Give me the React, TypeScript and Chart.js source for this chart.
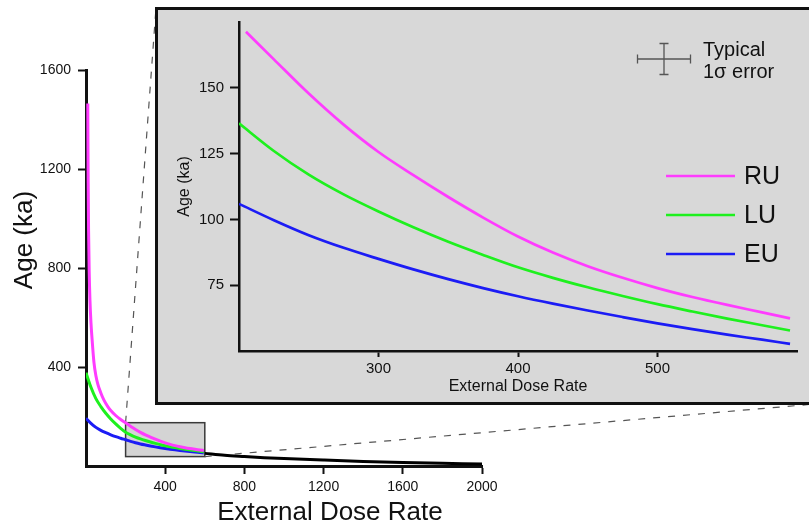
import React, { useEffect, useRef } from 'react';
import { Chart, registerables } from 'chart.js';

Chart.register(...registerables);

const FONT = '"Liberation Sans", Arial, Helvetica, sans-serif';

const seriesLabels = ['RU', 'LU', 'EU'];
const seriesColors = ['#ff3cff', '#1ef01e', '#1c1cf5'];

// Large panel, low-dose part (0-200)
const ruLowDose = [9, 10, 11, 13, 16, 20, 25, 30, 40, 50, 60, 75, 90, 110, 125, 150, 175];
const ruLowAge = [1465, 1290, 1142, 950, 790, 670, 580, 520, 420, 365, 330, 295, 267, 240, 224, 204, 188];
const luLowDose = [0, 25, 50, 75, 100, 125, 150, 175];
const luLowAge = [377, 318, 272, 240, 213, 190, 170, 152];
const euLowDose = [0, 25, 50, 75, 100, 125, 150, 175];
const euLowAge = [193, 172, 156, 144, 134.5, 126, 118.5, 112];

// Inset readings (200-600)
const ruInsetDose = [205, 225, 250, 275, 300, 325, 350, 375, 400, 425, 450, 475, 500, 525, 550, 575, 595];
const ruInsetAge = [171.3, 160.8, 147.8, 136, 125.6, 116.8, 108.5, 100.7, 93.5, 87.4, 82.2, 77.8, 73.9, 70.5, 67.5, 64.7, 62.4];
const insetDose = [200, 225, 250, 275, 300, 325, 350, 375, 400, 425, 450, 475, 500, 525, 550, 575, 595];
const luInsetAge = [136.5, 126, 117, 109.5, 103, 97, 91.5, 86.5, 81.8, 77.8, 74.2, 70.9, 67.8, 65, 62.3, 59.8, 57.8];
const euInsetAge = [105.9, 99.7, 94, 89.2, 85, 81, 77.3, 73.9, 70.8, 68, 65.4, 62.9, 60.5, 58.3, 56.2, 54.3, 52.7];

// High-dose tail (black line)
const tailDose = [600, 700, 800, 900, 1000, 1200, 1400, 1600, 1800, 2000];
const tailAge = [51, 43, 38, 33.5, 30, 24, 18.5, 14, 11, 8];

// Zoom window shown in the large panel
const zoomBoxDose = [200, 600];
const zoomBoxAge = [38, 175];

// Tick values
const mainXTicks = [400, 800, 1200, 1600, 2000];
const mainYTicks = [400, 800, 1200, 1600];
const insetXTicks = [300, 400, 500];
const insetYTicks = [75, 100, 125, 150];

const errorLabel = ['Typical', '1\u03c3 error'];
const axisTitleX = 'External Dose Rate';
const axisTitleY = 'Age (ka)';

// layout of inset box on the page
const INSET = { left: 155, top: 7, width: 654, height: 398, farRight: 815 };

const pts = (xs: number[], ys: number[]) => xs.map((x, i) => ({ x, y: ys[i] }));

const mainSeries = [
  pts([...ruLowDose, ...ruInsetDose], [...ruLowAge, ...ruInsetAge]),
  pts([...luLowDose, ...insetDose], [...luLowAge, ...luInsetAge]),
  pts([...euLowDose, ...insetDose], [...euLowAge, ...euInsetAge]),
];
const insetSeries = [
  pts(ruInsetDose, ruInsetAge),
  pts(insetDose, luInsetAge),
  pts(insetDose, euInsetAge),
];

const mainDecor = {
  id: 'mainDecor',
  beforeDatasetsDraw(chart: any) {
    const { ctx, scales } = chart;
    const x = scales.x, y = scales.y;
    const x0 = x.getPixelForValue(zoomBoxDose[0]);
    const x1 = x.getPixelForValue(zoomBoxDose[1]);
    const y0 = y.getPixelForValue(zoomBoxAge[1]);
    const y1 = y.getPixelForValue(zoomBoxAge[0]);
    ctx.save();
    ctx.fillStyle = '#d4d4d4';
    ctx.fillRect(x0, y0, x1 - x0, y1 - y0);
    ctx.strokeStyle = '#3a3a3a';
    ctx.lineWidth = 1.5;
    ctx.strokeRect(x0, y0, x1 - x0, y1 - y0);
    ctx.setLineDash([7, 8]);
    ctx.strokeStyle = '#555';
    ctx.lineWidth = 1.2;
    ctx.beginPath();
    ctx.moveTo(x0, y0);
    ctx.lineTo(INSET.left + 1, INSET.top + 1);
    ctx.moveTo(x1, y1);
    ctx.lineTo(INSET.farRight, INSET.top + INSET.height - 1);
    ctx.stroke();
    ctx.restore();
  },
  afterDraw(chart: any) {
    const { ctx, chartArea } = chart;
    ctx.save();
    ctx.fillStyle = '#111';
    ctx.font = `26px ${FONT}`;
    ctx.textAlign = 'center';
    ctx.textBaseline = 'middle';
    ctx.fillText(axisTitleX, chartArea.left + 244, chartArea.bottom + 47);
    ctx.translate(chartArea.left - 61, chartArea.top + 170);
    ctx.rotate(-Math.PI / 2);
    ctx.fillText(axisTitleY, 0, 0);
    ctx.restore();
  },
};

const insetDecor = {
  id: 'insetDecor',
  beforeDraw(chart: any) {
    const { ctx, width, height } = chart;
    ctx.save();
    ctx.fillStyle = '#d8d8d8';
    ctx.fillRect(0, 0, width, height);
    ctx.strokeStyle = '#111';
    ctx.lineWidth = 3;
    ctx.beginPath();
    ctx.moveTo(width + 5, 1.5);
    ctx.lineTo(1.5, 1.5);
    ctx.lineTo(1.5, height - 1.5);
    ctx.lineTo(width + 5, height - 1.5);
    ctx.stroke();
    ctx.restore();
  },
  afterDraw(chart: any) {
    const { ctx, chartArea } = chart;
    const r = chartArea.right;
    const t = chartArea.top;
    ctx.save();
    // legend
    ctx.font = `25px ${FONT}`;
    ctx.textBaseline = 'middle';
    ctx.textAlign = 'left';
    seriesLabels.forEach((lab, i) => {
      const yy = t + 154 + i * 39;
      ctx.strokeStyle = seriesColors[i];
      ctx.lineWidth = 2.6;
      ctx.beginPath();
      ctx.moveTo(r - 131, yy);
      ctx.lineTo(r - 62, yy);
      ctx.stroke();
      ctx.fillStyle = '#111';
      ctx.fillText(lab, r - 53, yy + 1);
    });
    // typical error cross
    const cx = r - 133, cy = t + 37;
    const hw = 26.5, hh = 15.5, cap = 4.5;
    ctx.strokeStyle = '#555';
    ctx.lineWidth = 1.3;
    ctx.beginPath();
    ctx.moveTo(cx - hw, cy); ctx.lineTo(cx + hw, cy);
    ctx.moveTo(cx - hw, cy - cap); ctx.lineTo(cx - hw, cy + cap);
    ctx.moveTo(cx + hw, cy - cap); ctx.lineTo(cx + hw, cy + cap);
    ctx.moveTo(cx, cy - hh); ctx.lineTo(cx, cy + hh);
    ctx.moveTo(cx - cap, cy - hh); ctx.lineTo(cx + cap, cy - hh);
    ctx.moveTo(cx - cap, cy + hh); ctx.lineTo(cx + cap, cy + hh);
    ctx.stroke();
    ctx.fillStyle = '#111';
    ctx.font = `20px ${FONT}`;
    ctx.textBaseline = 'alphabetic';
    ctx.fillText(errorLabel[0], r - 94, t + 34);
    ctx.fillText(errorLabel[1], r - 94, t + 55.5);
    ctx.restore();
  },
};

function makeAxis(opts: any) {
  return {
    type: 'linear',
    min: opts.min,
    max: opts.max,
    afterBuildTicks: (s: any) => {
      s.ticks = opts.ticks.map((v: number) => ({ value: v }));
    },
    afterFit: (s: any) => {
      if (opts.width != null) s.width = opts.width;
      if (opts.height != null) s.height = opts.height;
    },
    grid: {
      display: true,
      drawOnChartArea: false,
      drawTicks: true,
      tickLength: opts.tickLength,
      tickWidth: 2,
      tickColor: '#111',
    },
    border: { display: true, color: '#111', width: opts.borderWidth },
    ticks: {
      color: '#111',
      font: { family: FONT, size: opts.fontSize },
      padding: opts.padding,
      maxRotation: 0,
      autoSkip: false,
      callback: (v: any) => String(v),
    },
    title: opts.title
      ? {
          display: true,
          text: opts.title,
          color: '#111',
          font: { family: FONT, size: 16 },
          padding: opts.titlePadding,
        }
      : { display: false },
  };
}

const lineStyle = (color: string, width: number) => ({
  showLine: true,
  borderColor: color,
  borderWidth: width,
  pointRadius: 0,
  cubicInterpolationMode: 'monotone',
});

export default function App() {
  const mainRef = useRef<HTMLCanvasElement>(null);
  const insetRef = useRef<HTMLCanvasElement>(null);

  useEffect(() => {
    document.body.style.margin = '0';
    const main = new Chart(mainRef.current as HTMLCanvasElement, {
      type: 'scatter',
      data: {
        datasets: [
          ...mainSeries.map((d, i) => ({
            label: seriesLabels[i],
            data: d,
            ...lineStyle(seriesColors[i], 3),
          })),
          {
            label: 'tail',
            data: pts(tailDose, tailAge),
            ...lineStyle('#000', 3),
          },
        ],
      } as any,
      options: {
        animation: false,
        responsive: false,
        devicePixelRatio: 1,
        layout: { padding: { left: 0, top: 70, right: 327, bottom: 0 } },
        plugins: { legend: { display: false }, tooltip: { enabled: false } },
        scales: {
          x: makeAxis({ min: 0, max: 2000, ticks: mainXTicks, height: 61, tickLength: 8, borderWidth: 3, fontSize: 14, padding: 5 }),
          y: makeAxis({ min: 0, max: 1600, ticks: mainYTicks, width: 86, tickLength: 8, borderWidth: 3, fontSize: 14, padding: 7 }),
        } as any,
      },
      plugins: [mainDecor],
    });

    const inset = new Chart(insetRef.current as HTMLCanvasElement, {
      type: 'scatter',
      data: {
        datasets: insetSeries.map((d, i) => ({
          label: seriesLabels[i],
          data: d,
          ...lineStyle(seriesColors[i], 2.7),
        })),
      } as any,
      options: {
        animation: false,
        responsive: false,
        devicePixelRatio: 1,
        layout: { padding: { left: 0, top: 11, right: 12, bottom: 0 } },
        plugins: { legend: { display: false }, tooltip: { enabled: false } },
        scales: {
          x: makeAxis({ min: 200, max: 600, ticks: insetXTicks, height: 54, tickLength: 6, borderWidth: 2.5, fontSize: 15, padding: 3, title: axisTitleX, titlePadding: { top: 0, bottom: 9 } }),
          y: makeAxis({ min: 50, max: 175, ticks: insetYTicks, width: 84, tickLength: 9, borderWidth: 2.5, fontSize: 15, padding: 6, title: axisTitleY, titlePadding: { top: 20, bottom: 0 } }),
        } as any,
      },
      plugins: [insetDecor],
    });

    return () => {
      main.destroy();
      inset.destroy();
    };
  }, []);

  return (
    <div style={{ position: 'relative', width: 809, height: 527, overflow: 'hidden', background: '#fff' }}>
      <canvas ref={mainRef} width={809} height={527} style={{ position: 'absolute', left: 0, top: 0 }} />
      <canvas
        ref={insetRef}
        width={INSET.width}
        height={INSET.height}
        style={{ position: 'absolute', left: INSET.left, top: INSET.top }}
      />
    </div>
  );
}
